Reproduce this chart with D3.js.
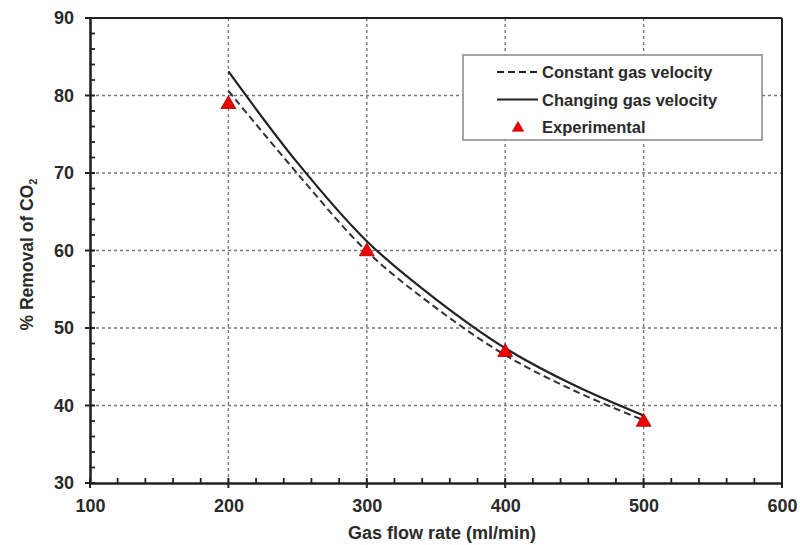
<!DOCTYPE html>
<html>
<head>
<meta charset="utf-8">
<script src="https://cdn.jsdelivr.net/npm/d3@7"></script>
<style>
  body { margin: 0; background: #fff; }
  svg { display: block; font-family: "Liberation Sans", Arial, sans-serif; font-weight: bold; }
</style>
</head>
<body>
<svg id="chart" width="800" height="545"></svg>
<script>
// --- data ---
const flowRates = [200, 250, 300, 350, 400, 450, 500];
const constantVelocity = [80.6, 69.9, 59.9, 52.6, 46.5, 41.9, 38.1];
const changingVelocity = [83.1, 71.3, 61.2, 53.7, 47.4, 42.6, 38.7];

const expFlow = [200, 300, 400, 500];
const expRemoval = [79, 60, 47, 38];

const xTicks = [100, 200, 300, 400, 500, 600];
const yTicks = [30, 40, 50, 60, 70, 80, 90];

const svg = d3.select("#chart");
const margin = { top: 18, right: 18, bottom: 62, left: 90 };
const W = 800, H = 545;

const x = d3.scaleLinear().domain([100, 600]).range([margin.left, W - margin.right]);
const y = d3.scaleLinear().domain([30, 90]).range([H - margin.bottom, margin.top]);

// grid
const grid = svg.append("g").attr("stroke", "#777").attr("stroke-width", 1.4).attr("stroke-dasharray", "3,3");
grid.selectAll(".vg").data(xTicks.slice(1, -1)).enter().append("line")
    .attr("x1", d => x(d)).attr("x2", d => x(d))
    .attr("y1", y(90)).attr("y2", y(30));
grid.selectAll(".hg").data(yTicks.slice(1, -1)).enter().append("line")
    .attr("x1", x(100)).attr("x2", x(600))
    .attr("y1", d => y(d)).attr("y2", d => y(d));

// frame (top/right)
svg.append("line").attr("x1", x(100)).attr("x2", x(600)).attr("y1", y(90)).attr("y2", y(90))
    .attr("stroke", "#222").attr("stroke-width", 2);
svg.append("line").attr("x1", x(600)).attr("x2", x(600)).attr("y1", y(90)).attr("y2", y(30))
    .attr("stroke", "#222").attr("stroke-width", 2);

// axes
const xAxis = svg.append("g").attr("transform", `translate(0,${y(30)})`)
    .call(d3.axisBottom(x).tickValues(xTicks).tickSize(0).tickPadding(16));
const yAxis = svg.append("g").attr("transform", `translate(${x(100)},0)`)
    .call(d3.axisLeft(y).tickValues(yTicks).tickSize(0).tickPadding(16));
[xAxis, yAxis].forEach(a => {
    a.select(".domain").attr("stroke", "#222").attr("stroke-width", 2.6);
    a.selectAll("text").attr("font-size", 18).attr("font-weight", "bold").attr("fill", "#2a2a2a")
        .attr("font-family", "Liberation Sans, Arial, sans-serif");
});

// major ticks crossing the axes
svg.append("g").selectAll("line").data(xTicks).enter().append("line")
    .attr("x1", d => x(d)).attr("x2", d => x(d))
    .attr("y1", y(30) - 5).attr("y2", y(30) + 5)
    .attr("stroke", "#222").attr("stroke-width", 2);
svg.append("g").selectAll("line").data(yTicks).enter().append("line")
    .attr("x1", x(100) - 5).attr("x2", x(100) + 5)
    .attr("y1", d => y(d)).attr("y2", d => y(d))
    .attr("stroke", "#222").attr("stroke-width", 2);

// minor ticks (inward)
const xMinor = d3.range(100, 600, 20).filter(v => v % 100 !== 0);
const yMinor = d3.range(30, 90, 2).filter(v => v % 10 !== 0);
svg.append("g").selectAll("line").data(xMinor).enter().append("line")
    .attr("x1", d => x(d)).attr("x2", d => x(d))
    .attr("y1", y(30)).attr("y2", y(30) - 5)
    .attr("stroke", "#222").attr("stroke-width", 1.8);
svg.append("g").selectAll("line").data(yMinor).enter().append("line")
    .attr("x1", x(100)).attr("x2", x(100) + 5)
    .attr("y1", d => y(d)).attr("y2", d => y(d))
    .attr("stroke", "#222").attr("stroke-width", 1.8);

// curves
const line = d3.line().x(d => x(d[0])).y(d => y(d[1])).curve(d3.curveCatmullRom.alpha(0.5));
svg.append("path")
    .attr("d", line(d3.zip(flowRates, constantVelocity)))
    .attr("fill", "none").attr("stroke", "#333").attr("stroke-width", 2)
    .attr("stroke-dasharray", "7,4");
svg.append("path")
    .attr("d", line(d3.zip(flowRates, changingVelocity)))
    .attr("fill", "none").attr("stroke", "#222").attr("stroke-width", 2.2);

// experimental points
const tri = d3.symbol().type(d3.symbolTriangle).size(95);
svg.append("g").selectAll("path").data(d3.zip(expFlow, expRemoval)).enter().append("path")
    .attr("d", tri)
    .attr("transform", d => `translate(${x(d[0])},${y(d[1]) + 1})`)
    .attr("fill", "#f00000").attr("stroke", "#a00000").attr("stroke-width", 0.8);

// axis titles
svg.append("text").attr("x", (x(100) + x(600)) / 2 + 6).attr("y", 539)
    .attr("text-anchor", "middle").attr("font-size", 18).attr("fill", "#2a2a2a")
    .text("Gas flow rate (ml/min)");
const yt = svg.append("text")
    .attr("transform", `translate(33,${(y(30) + y(90)) / 2 + 4}) rotate(-90)`)
    .attr("text-anchor", "middle").attr("font-size", 17.5).attr("fill", "#2a2a2a");
yt.append("tspan").text("% Removal of CO");
yt.append("tspan").attr("font-size", 11).attr("dy", 4).text("2");

// legend
const lg = svg.append("g");
lg.append("rect").attr("x", 463).attr("y", 55).attr("width", 299).attr("height", 85)
    .attr("fill", "#fff").attr("stroke", "#888").attr("stroke-width", 1.5);
const legendItems = [
    { label: "Constant gas velocity", type: "dash" },
    { label: "Changing gas velocity", type: "solid" },
    { label: "Experimental", type: "tri" }
];
legendItems.forEach((d, i) => {
    const cy = 72 + i * 27.5;
    if (d.type === "tri") {
        lg.append("path").attr("d", d3.symbol().type(d3.symbolTriangle).size(55))
            .attr("transform", `translate(518,${cy + 1})`)
            .attr("fill", "#f00000").attr("stroke", "#a00000").attr("stroke-width", 0.6);
    } else {
        lg.append("line").attr("x1", 497).attr("x2", 538).attr("y1", cy).attr("y2", cy)
            .attr("stroke", "#222").attr("stroke-width", 2)
            .attr("stroke-dasharray", d.type === "dash" ? "7,4" : null);
    }
    lg.append("text").attr("x", 542).attr("y", cy + 6).attr("font-size", 16.5)
        .attr("fill", "#2a2a2a").text(d.label);
});
</script>
</body>
</html>
